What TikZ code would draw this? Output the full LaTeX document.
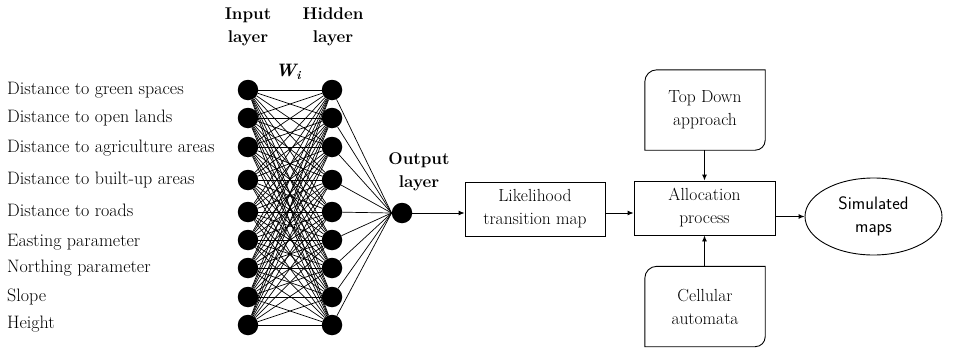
\documentclass[tikz,border=0pt]{standalone}
\usepackage{fontspec}
\usetikzlibrary{arrows.meta,shapes.geometric,calc}

\begin{document}
\begin{tikzpicture}[x=1pt,y=-1pt,
  neuron/.style={circle,fill=black,draw=none,minimum size=20.5pt,inner sep=0pt},
  wire/.style={line width=0.7pt},
  inlabel/.style={anchor=west,inner sep=0pt,font=\rmfamily\fontsize{18}{22}\selectfont,text height=12pt,text depth=4pt},
  head/.style={align=center,inner sep=0pt,font=\rmfamily\bfseries\fontsize{17}{23}\selectfont},
  procbox/.style={draw,line width=0.9pt,align=center,inner sep=0pt,font=\rmfamily\fontsize{17.5}{23}\selectfont},
  cardbox/.style={draw=none,align=center,inner sep=0pt,minimum width=120pt,minimum height=80pt,font=\rmfamily\fontsize{17.5}{23}\selectfont},
  flow/.style={line width=0.9pt,-{Latex[length=6pt,width=5pt]}}]
\useasboundingbox (0,0) rectangle (962,348);

% rows of the input and hidden layers
\def\rowlist{90,118,147,180,212,240,268,297,325}

\foreach \yy [count=\k] in \rowlist {
  \node[neuron] (i\k) at (248,\yy) {};
  \node[neuron] (h\k) at (332,\yy) {};
}
\node[neuron] (out) at (402,213) {};

% fully connected weights
\foreach \a in {1,...,9}
  \foreach \b in {1,...,9}
    \draw[wire] (i\a) -- (h\b);
\foreach \b in {1,...,9}
  \draw[wire] (h\b) -- (out.west);

% input variable names
\node[inlabel] (l1) at (7,90)  {Distance to green spaces};
\node[inlabel] (l2) at (7,118) {Distance to open lands};
\node[inlabel] (l3) at (7,148) {Distance to agriculture areas};
\node[inlabel] (l4) at (7,180) {Distance to built-up areas};
\node[inlabel] (l5) at (7,212) {Distance to roads};
\node[inlabel] (l6) at (7,242) {Easting parameter};
\node[inlabel] (l7) at (7,268) {Northing parameter};
\node[inlabel] (l8) at (7,297) {Slope};
\node[inlabel] (l9) at (7,324) {Height};

% layer headings
\node[head] (hin)  at (248,27)  {Input\\layer};
\node[head] (hhid) at (333,27)  {Hidden\\layer};
\node[head] (hout) at (419,172) {Output\\layer};
\node[inner sep=0pt,font=\rmfamily\bfseries\itshape\fontsize{18}{18}\selectfont] (w) at (288,72)
  {W\raisebox{-0.45ex}{\fontsize{12}{12}\selectfont i}};

% process chain
\node[procbox,minimum width=140pt,minimum height=54pt] (lik) at (535,209) {Likelihood\\transition map};
\node[procbox,minimum width=141pt,minimum height=54pt] (alloc) at (704.5,208) {Allocation\\process};
\node[draw,ellipse,line width=0.9pt,minimum width=137pt,minimum height=77pt,inner sep=0pt,
      align=center,font=\sffamily\fontsize{18}{23}\selectfont] (sim) at (873.5,216.5) {Simulated\\maps};

\node[cardbox] (top)  at (705,110) {Top Down\\approach};
\node[cardbox] (cell) at (705,306.5) {Cellular\\automata};
\foreach \n in {top,cell}
  \draw[line width=0.9pt] (\n.north east) -- ([yshift=10pt]\n.south east)
    arc[start angle=0,end angle=-90,radius=10pt] -- (\n.south west)
    -- ([yshift=-12pt]\n.north west) arc[start angle=180,end angle=90,radius=12pt] -- cycle;

% connectors
\draw[flow] (out) -- (out -| lik.west);
\draw[flow] (lik.east |- out) -- (alloc.west |- out);
\draw[flow] (alloc.east |- sim) -- (sim.west);
\draw[flow] (top.south -| alloc.north) -- (alloc.north);
\draw[flow] (cell.north -| alloc.south) -- (alloc.south);
\end{tikzpicture}
\end{document}
